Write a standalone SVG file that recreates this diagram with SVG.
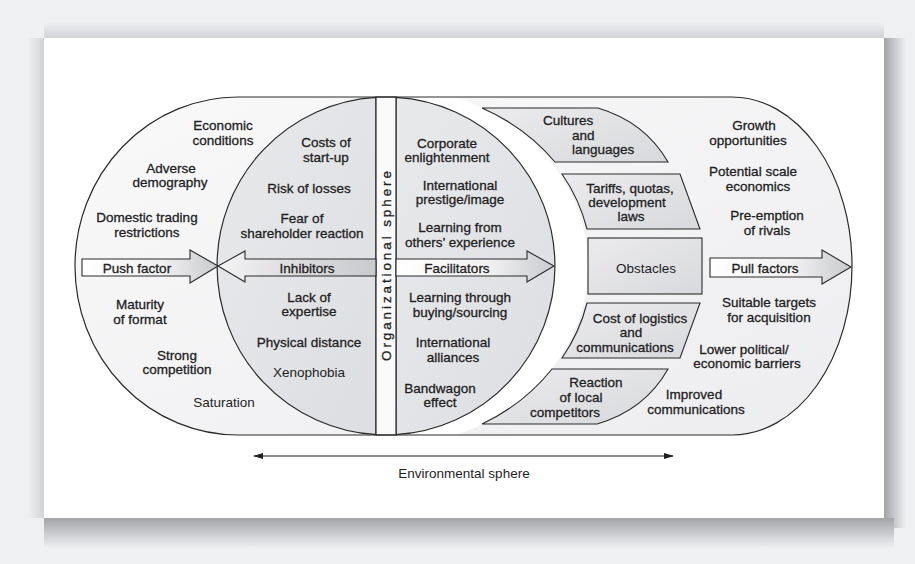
<svg xmlns="http://www.w3.org/2000/svg" width="915" height="564" viewBox="0 0 915 564">
<defs>
<style>
text{font-family:"Liberation Sans",Arial,sans-serif;font-size:13.5px;fill:#1e1e1e;text-anchor:middle;stroke:#1e1e1e;stroke-width:0.3px}
.ln{fill:none;stroke:#2a2a2a;stroke-width:1.2}
.circ{fill:url(#gCirc);stroke:#2a2a2a;stroke-width:1.2}
.band{fill:#f9f9f9;stroke:#2a2a2a;stroke-width:1.2}
.obs{fill:url(#gObs);stroke:#2a2a2a;stroke-width:1.1}
.arr{stroke:#2a2a2a;stroke-width:1.1}
.st{text-anchor:start}
.lt{stroke-width:0}
</style>
<linearGradient id="gStad" x1="0" y1="0" x2="1" y2="1"><stop offset="0" stop-color="#f9f9fa"/><stop offset="1" stop-color="#ededef"/></linearGradient>
<linearGradient id="gCirc" x1="0" y1="0" x2="1" y2="1"><stop offset="0" stop-color="#e8e9eb"/><stop offset="1" stop-color="#dddee1"/></linearGradient>
<linearGradient id="gObs" x1="0" y1="0" x2="1" y2="1"><stop offset="0" stop-color="#ebebed"/><stop offset="1" stop-color="#d8d9dc"/></linearGradient>
<linearGradient id="gArrR" x1="0" y1="0" x2="1" y2="0"><stop offset="0" stop-color="#ffffff"/><stop offset="0.6" stop-color="#f0f0f1"/><stop offset="1" stop-color="#c9cacd"/></linearGradient>
<linearGradient id="gArrL" x1="1" y1="0" x2="0" y2="0"><stop offset="0" stop-color="#c9cacd"/><stop offset="0.6" stop-color="#e0e0e2"/><stop offset="1" stop-color="#f4f4f5"/></linearGradient>
<linearGradient id="shR" x1="0" y1="0" x2="1" y2="0"><stop offset="0" stop-color="#a3a4a8"/><stop offset="1" stop-color="#eff0f2"/></linearGradient>
<linearGradient id="shB" x1="0" y1="0" x2="0" y2="1"><stop offset="0" stop-color="#a3a4a8"/><stop offset="1" stop-color="#eff0f2"/></linearGradient>
<linearGradient id="shT" x1="0" y1="1" x2="0" y2="0"><stop offset="0" stop-color="#d2d3d6"/><stop offset="1" stop-color="#eff0f2"/></linearGradient>
<linearGradient id="shL" x1="1" y1="0" x2="0" y2="0"><stop offset="0" stop-color="#d2d3d6"/><stop offset="1" stop-color="#eff0f2"/></linearGradient>
<clipPath id="cpStad"><path d="M238,97 L732,97 A120,169 0 0 1 732,435 L238,435 A163,169 0 0 1 238,97 Z"/></clipPath>
<clipPath id="cpRight"><rect x="396" y="90" width="320" height="350"/></clipPath>
<marker id="ah" viewBox="0 0 10 6" refX="9" refY="3" markerWidth="10" markerHeight="6" markerUnits="userSpaceOnUse" orient="auto-start-reverse"><path d="M0,0 L10,3 L0,6 Z" fill="#1e1e1e"/></marker>
</defs>
<rect width="915" height="564" fill="#eff0f2"/>
<g id="card">
<rect x="44" y="22" width="840" height="16" fill="url(#shT)"/>
<rect x="28" y="38" width="16" height="480" fill="url(#shL)"/>
<rect x="884" y="38" width="22" height="490" fill="url(#shR)"/>
<rect x="44" y="518" width="850" height="30" fill="url(#shB)"/>
<rect x="44" y="38" width="840" height="480" fill="#ffffff"/>
</g>
<g id="environment-shape">
<path d="M238,97 L732,97 A120,169 0 0 1 732,435 L238,435 A163,169 0 0 1 238,97 Z" fill="url(#gStad)"/>
<g clip-path="url(#cpStad)"><ellipse cx="386" cy="266" rx="202" ry="180" fill="#ffffff" clip-path="url(#cpRight)"/></g>
</g>
<g id="inhibitors-zone">
<path d="M376,97.3 A169,169 0 0 0 376,434.7 Z" class="circ"/>
</g>
<g id="facilitators-zone">
<path d="M396,97.3 A169,169 0 0 1 396,434.7 Z" class="circ"/>
</g>
<g id="organizational-sphere">
<rect x="376" y="97" width="20" height="338" class="band"/>
<text transform="translate(391,266) rotate(-90)" font-size="14" textLength="190" lengthAdjust="spacing">Organizational sphere</text>
</g>
<path d="M238,97 L732,97 A120,169 0 0 1 732,435 L238,435 A163,169 0 0 1 238,97 Z" class="ln"/>
<g id="obstacle-cultures">
<path d="M482,108 L598,108 Q645,122 668,162 L555,162 A202,180 0 0 0 482,108 Z" class="obs"/>
<text class="st" x="543" y="125">Cultures</text><text class="st" x="572" y="140">and</text><text class="st" x="572" y="154">languages</text>
</g>
<g id="obstacle-tariffs">
<path d="M562,174 L680,174 L700,229 L587,229 A202,180 0 0 0 562,174 Z" class="obs"/>
<text x="630" y="193" font-size="12.5">Tariffs, quotas,</text><text x="627" y="207" font-size="12.5">development</text><text x="631" y="221" font-size="12.5">laws</text>
</g>
<g id="obstacles">
<rect x="588" y="238" width="114" height="56" class="obs"/>
<text class="lt" x="646" y="273">Obstacles</text>
</g>
<g id="obstacle-logistics">
<path d="M587,303 L700,303 L680,358 L562,358 A202,180 0 0 0 587,303 Z" class="obs"/>
<text x="640" y="323">Cost of logistics</text><text x="631" y="337">and</text><text x="625" y="352">communications</text>
</g>
<g id="obstacle-reaction">
<path d="M552,369 L668,369 Q645,410 597,424 L482,424 A202,180 0 0 0 552,369 Z" class="obs"/>
<text x="596" y="387">Reaction</text><text x="581" y="402">of local</text><text x="565" y="417">competitors</text>
</g>
<g id="connectors">
<path id="push-arrow" d="M82,259 L190,259 L190,250 L218,266 L190,283 L190,276 L82,276 Z" fill="url(#gArrR)" class="arr"/>
<path id="inhibitors-arrow" d="M376,259 L245,259 L245,251 L218,266 L245,282 L245,276 L376,276 Z" fill="url(#gArrL)" class="arr"/>
<path id="facilitators-arrow" d="M396,259 L527,259 L527,251 L554,266 L527,282 L527,276 L396,276 Z" fill="url(#gArrR)" class="arr"/>
<path id="pull-arrow" d="M710,258 L822,258 L822,250 L851,267 L822,284 L822,277 L710,277 Z" fill="url(#gArrR)" class="arr"/>
<line id="environment-arrow" x1="254" y1="456" x2="673" y2="456" stroke="#1e1e1e" stroke-width="1.2" marker-start="url(#ah)" marker-end="url(#ah)"/>
</g>
<g id="arrow-labels">
<text x="137" y="273">Push factor</text>
<text x="307" y="273">Inhibitors</text>
<text x="457" y="273">Facilitators</text>
<text x="765" y="273">Pull factors</text>
</g>
<g id="push-factors">
<text x="223" y="130">Economic</text><text x="223" y="145">conditions</text>
<text x="171" y="173">Adverse</text><text x="170" y="187">demography</text>
<text x="147" y="222">Domestic trading</text><text x="147" y="237">restrictions</text>
<text x="140" y="309">Maturity</text><text x="140" y="324">of format</text>
<text x="177" y="360">Strong</text><text x="177" y="374">competition</text>
<text class="lt" x="224" y="407">Saturation</text>
</g>
<g id="inhibitors">
<text x="326" y="147">Costs of</text><text x="326" y="162">start-up</text>
<text x="309" y="193">Risk of losses</text>
<text x="302" y="223">Fear of</text><text x="302" y="238">shareholder reaction</text>
<text x="309" y="302">Lack of</text><text x="309" y="316">expertise</text>
<text x="309" y="347">Physical distance</text>
<text class="lt" x="309" y="377">Xenophobia</text>
</g>
<g id="facilitators">
<text x="447" y="148">Corporate</text><text x="447" y="162">enlightenment</text>
<text x="460" y="190">International</text><text x="460" y="204">prestige/image</text>
<text x="460" y="232">Learning from</text><text x="460" y="247">others’ experience</text>
<text x="460" y="302">Learning through</text><text x="460" y="317">buying/sourcing</text>
<text x="453" y="347">International</text><text x="453" y="362">alliances</text>
<text x="440" y="393">Bandwagon</text><text x="440" y="407">effect</text>
</g>
<g id="pull-factors">
<text x="754" y="130">Growth</text><text x="748" y="145">opportunities</text>
<text x="753" y="176">Potential scale</text><text x="758" y="191">economics</text>
<text x="767" y="220">Pre-emption</text><text x="767" y="235">of rivals</text>
<text x="769" y="307">Suitable targets</text><text x="769" y="322">for acquisition</text>
<text x="744" y="354">Lower political/</text><text x="747" y="368">economic barriers</text>
<text x="694" y="399">Improved</text><text x="696" y="414">communications</text>
</g>
<g id="environmental-sphere">
<text class="lt" x="464" y="478" font-size="13">Environmental sphere</text>
</g>
</svg>
